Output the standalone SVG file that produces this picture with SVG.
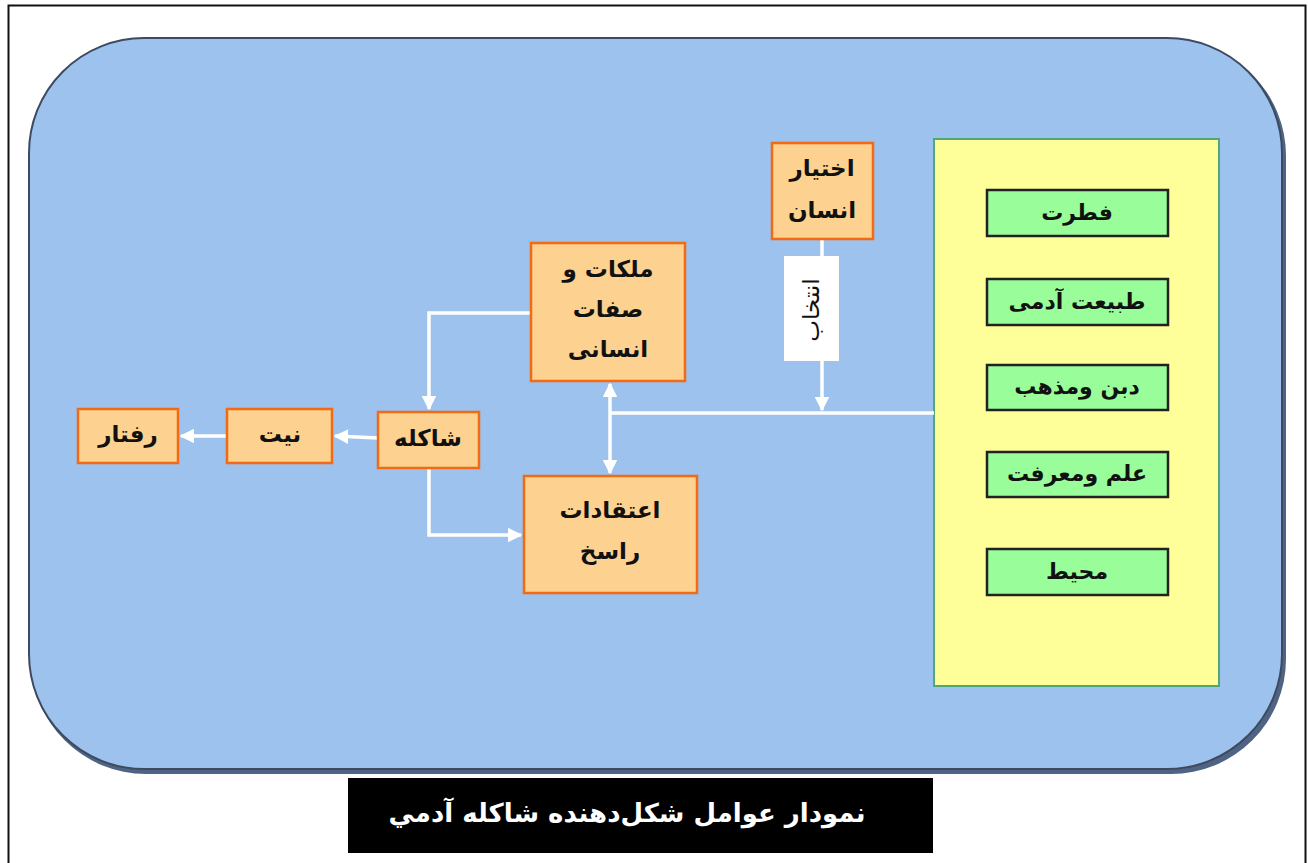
<svg xmlns="http://www.w3.org/2000/svg" width="1308" height="863" viewBox="0 0 1308 863">
<defs>
<style>
.t{font-family:"DejaVu Sans",sans-serif;font-weight:bold;fill:#111;text-anchor:middle;dominant-baseline:central;direction:rtl}
.ob{fill:#fdd18f;stroke:#f26a12;stroke-width:2.5}
.gb{fill:#99fd99;stroke:#222;stroke-width:2.5}
.c{fill:none;stroke:#fff;stroke-width:3.5}
</style>
<marker id="ah" viewBox="0 0 10 10" refX="9" refY="5" markerWidth="4.2" markerHeight="4.2" orient="auto" markerUnits="strokeWidth">
<path d="M0,0 L10,5 L0,10 Z" fill="#fff"/>
</marker>
</defs>
<rect x="0" y="0" width="1308" height="863" fill="#fff"/>
<rect x="8.5" y="5.5" width="1297" height="870" fill="none" stroke="#111" stroke-width="2"/>
<g id="background">
<rect x="31" y="41" width="1255" height="733" rx="115" ry="115" fill="#4f6484"/>
<rect x="29" y="38" width="1253" height="731" rx="115" ry="115" fill="#9dc2ee" stroke="#3d4a60" stroke-width="2"/>
</g>
<g id="factors">
<rect x="934" y="139" width="285" height="547" fill="#ffff99" stroke="#4fa77a" stroke-width="2"/>
</g>
<g id="connectors">
<path class="c" d="M934,413 H610"/>
<path class="c" d="M610,413 V384" marker-end="url(#ah)"/>
<path class="c" d="M610,413 V473" marker-end="url(#ah)"/>
<path class="c" d="M822,239 V410" marker-end="url(#ah)"/>
<path class="c" d="M531,313 H429 V409" marker-end="url(#ah)"/>
<path class="c" d="M429,468 V535 H521" marker-end="url(#ah)"/>
<path class="c" d="M378,438 L335,436" marker-end="url(#ah)"/>
<path class="c" d="M227,436 H181" marker-end="url(#ah)"/>
</g>
<g id="label-entekhab">
<rect x="784" y="256" width="55" height="105" fill="#fff"/>
<text class="t" transform="translate(811,310) rotate(-90)" font-size="23" style="font-weight:normal">انتخاب</text>
</g>
<g id="f1"><rect class="gb" x="987" y="190" width="181" height="46"/><text class="t" x="1077" y="212" font-size="22">فطرت</text></g>
<g id="f2"><rect class="gb" x="987" y="279" width="181" height="46"/><text class="t" x="1077" y="301" font-size="22">طبیعت آدمی</text></g>
<g id="f3"><rect class="gb" x="987" y="365" width="181" height="45"/><text class="t" x="1077" y="386" font-size="22">دبن ومذهب</text></g>
<g id="f4"><rect class="gb" x="987" y="452" width="181" height="45"/><text class="t" x="1077" y="473" font-size="22">علم ومعرفت</text></g>
<g id="f5"><rect class="gb" x="987" y="549" width="181" height="46"/><text class="t" x="1077" y="571" font-size="22">محیط</text></g>
<g id="ekhtiar"><rect class="ob" x="772" y="143" width="101" height="96"/>
<text class="t" x="822" y="168" font-size="23">اختیار</text><text class="t" x="822" y="210" font-size="23">انسان</text></g>
<g id="malakat"><rect class="ob" x="531" y="243" width="154" height="138"/>
<text class="t" x="608" y="269" font-size="23">ملکات و</text><text class="t" x="608" y="309" font-size="23">صفات</text><text class="t" x="608" y="349" font-size="23">انسانی</text></g>
<g id="eteghadat"><rect class="ob" x="524" y="476" width="173" height="117"/>
<text class="t" x="610" y="510" font-size="23">اعتقادات</text><text class="t" x="610" y="551" font-size="23">راسخ</text></g>
<g id="shakele"><rect class="ob" x="378" y="412" width="101" height="56"/><text class="t" x="428" y="438" font-size="23">شاکله</text></g>
<g id="niyat"><rect class="ob" x="227" y="409" width="105" height="54"/><text class="t" x="280" y="434" font-size="23">نیت</text></g>
<g id="raftar"><rect class="ob" x="78" y="409" width="100" height="54"/><text class="t" x="128" y="434" font-size="23">رفتار</text></g>
<g id="title"><rect x="348" y="778" width="585" height="75" fill="#000"/>
<text class="t" x="627" y="813" font-size="26" style="fill:#fff">نمودار عوامل شکل‌دهنده شاکله آدمي</text></g>
</svg>
